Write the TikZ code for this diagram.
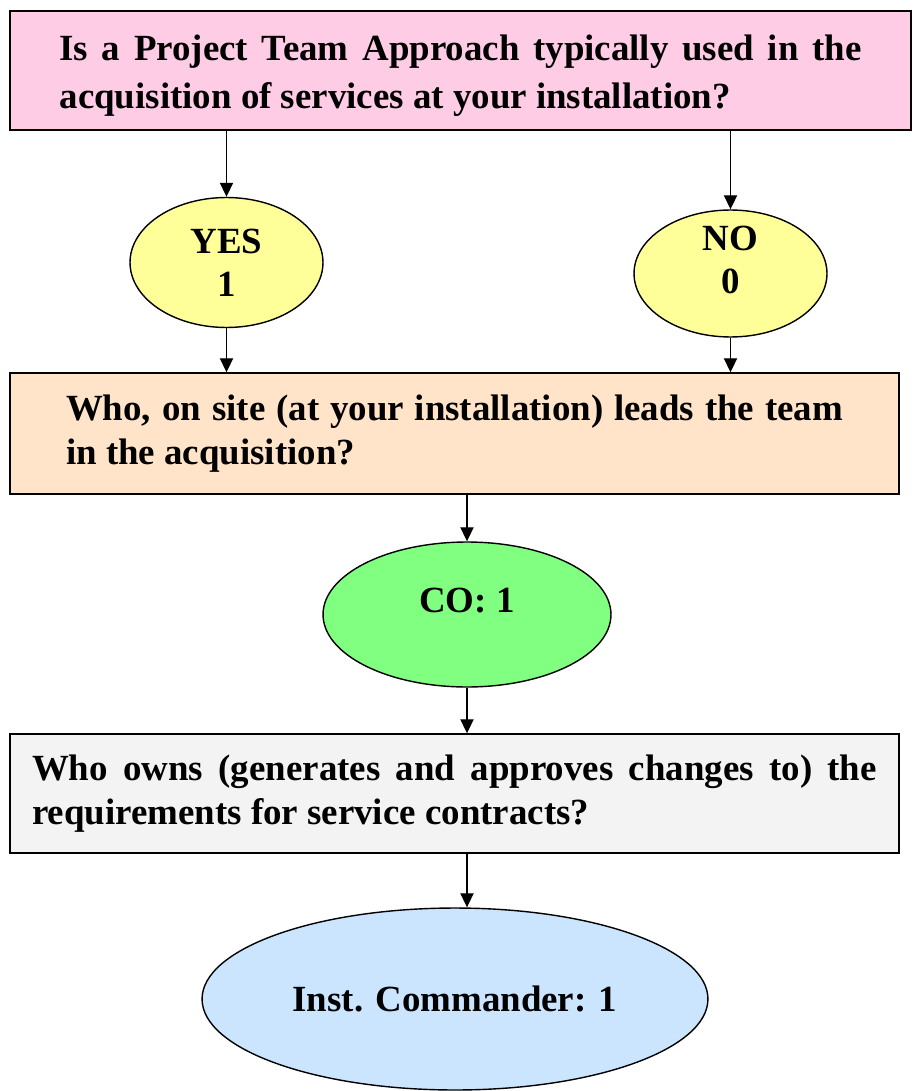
\documentclass[tikz,border=0pt]{standalone}
\usepackage{fontspec}
\setmainfont{Liberation Serif}
\usetikzlibrary{shapes.geometric, arrows.meta, positioning}

\definecolor{pinkq}{HTML}{FFCCE6}
\definecolor{peachq}{HTML}{FFE4CA}
\definecolor{greyq}{HTML}{F3F3F3}
\definecolor{yellowa}{HTML}{FFFF99}
\definecolor{greena}{HTML}{80FF80}
\definecolor{bluea}{HTML}{CCE5FF}

\begin{document}
\begin{tikzpicture}[x=0.02cm, y=-0.02cm,
    every node/.style={font=\fontsize{21}{24.7}\selectfont\bfseries},
    question/.style={draw, rectangle, line width=0.8pt, inner sep=0pt, align=justify},
    answer/.style={draw, ellipse, line width=0.8pt, inner sep=0pt, align=center},
    arr/.style={-{Triangle[length=8pt, width=7.5pt]}, line width=0.8pt}]
  \useasboundingbox (0,0) rectangle (913,1091);

  % First question
  \node (q1) [question, fill=pinkq, minimum width=18.02cm, minimum height=2.38cm,
    text width=16.04cm, font=\fontsize{21}{27.3}\selectfont\bfseries,
    text height=0pt, text depth=11.4pt]   % text sits a little low
    at (460.5,70.5) {Is a Project Team Approach typically used in the\linebreak acquisition of services at your installation?};

  % Answers
  \node (yes) [answer, fill=yellowa, minimum width=3.86cm, minimum height=2.6cm]
    at (226.5,262.5) {YES\\1};
  \node (no) [answer, fill=yellowa, minimum width=3.86cm, minimum height=2.54cm,
    text height=23.2pt, text depth=0pt]   % text sits above the centre
    at (730.5,273.5) {NO\\0};
  \draw[arr] (q1.south -| yes) -- (yes);
  \draw[arr] (q1.south -| no) -- (no);

  % Second question
  \node (q2) [question, fill=peachq, minimum width=17.78cm, minimum height=2.42cm,
    text width=15.54cm]
    at (454.5,433.5) {Who, on site (at your installation) leads the team\linebreak in the acquisition?};
  \draw[arr] (yes) -- (yes |- q2.north);
  \draw[arr] (no) -- (no |- q2.north);

  \node (co) [answer, fill=greena, minimum width=5.76cm, minimum height=2.9cm,
    text height=0pt, text depth=2.7pt]
    at (467,614.5) {CO: 1};
  \draw[arr] (q2.south -| co) -- (co);

  % Third question
  \node (q3) [question, fill=greyq, minimum width=17.78cm, minimum height=2.38cm,
    text width=16.9cm]
    at (454.5,793.5) {Who owns (generates and approves changes to) the\linebreak requirements for service contracts?};
  \draw[arr] (co) -- (co |- q3.north);

  \node (cmd) [answer, fill=bluea, minimum width=10.12cm, minimum height=3.64cm]
    at (455,999) {Inst. Commander: 1};
  \draw[arr] (q3.south -| co) -- (co |- cmd.north);
\end{tikzpicture}
\end{document}
